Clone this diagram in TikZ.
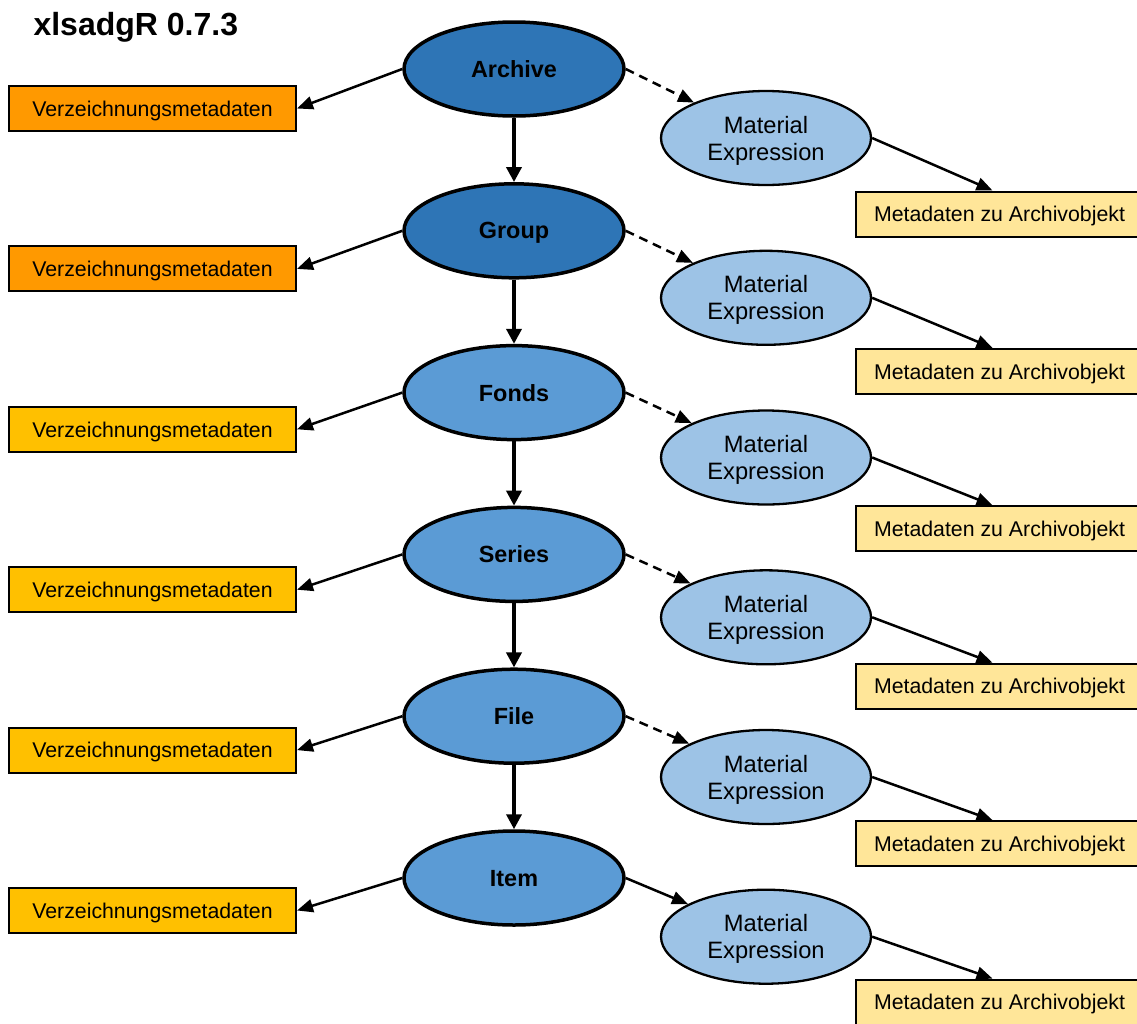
\documentclass[tikz,border=0pt]{standalone}
\usepackage{fontspec}
\setmainfont{Liberation Sans}
\usetikzlibrary{shapes.geometric,arrows.meta}
\definecolor{orangeA}{HTML}{FF9900}
\definecolor{orangeB}{HTML}{FFC000}
\definecolor{metaY}{HTML}{FFE699}
\definecolor{blueD}{HTML}{2E75B6}
\definecolor{blueM}{HTML}{5B9BD5}
\definecolor{blueL}{HTML}{9DC3E6}
\tikzset{
  mainell/.style={ellipse, draw=black, line width=3.5pt, minimum width=220pt, minimum height=94pt, inner sep=0pt,
    text depth=0pt, font=\fontsize{23.4pt}{27pt}\selectfont\bfseries},
  meell/.style={ellipse, draw=black, line width=2.3pt, fill=blueL, minimum width=210pt, minimum height=94pt, inner sep=0pt,
    align=center, text depth=0pt, font=\fontsize{23.7pt}{27pt}\selectfont},
  vbox/.style={rectangle, draw=black, line width=2pt, minimum width=287pt, minimum height=45pt, inner sep=0pt,
    text depth=0pt, font=\fontsize{21.3pt}{25pt}\selectfont},
  mbox/.style={vbox, fill=metaY},
  conn/.style={line width=2.5pt, -{Triangle[length=16pt,width=13pt]}},
  vconn/.style={line width=3.6pt, -{Triangle[length=15pt,width=15pt]}},
  dconn/.style={conn, dash pattern=on 9pt off 6pt},
}
\begin{document}
\begin{tikzpicture}[x=1pt,y=-1pt]
\useasboundingbox (0,0) rectangle (1137,1023);
\node[anchor=base west, font=\fontsize{32pt}{36pt}\selectfont\bfseries] (title) at (30,35) {xlsadgR 0.7.3};

% main ellipses
\node[mainell, fill=blueD] (m1) at (514,69) {Archive};
\node[mainell, fill=blueD] (m2) at (514,230.8) {Group};
\node[mainell, fill=blueM] (m3) at (514,392.6) {Fonds};
\node[mainell, fill=blueM] (m4) at (514,554.4) {Series};
\node[mainell, fill=blueM] (m5) at (514,716.2) {File};
\node[mainell, fill=blueM] (m6) at (514,878) {Item};

% left boxes
\node[vbox, fill=orangeA] (v1) at (152.5,108.5) {Verzeichnungsmetadaten};
\node[vbox, fill=orangeA] (v2) at (152.5,268.9) {Verzeichnungsmetadaten};
\node[vbox, fill=orangeB] (v3) at (152.5,429.3) {Verzeichnungsmetadaten};
\node[vbox, fill=orangeB] (v4) at (152.5,589.7) {Verzeichnungsmetadaten};
\node[vbox, fill=orangeB] (v5) at (152.5,750.1) {Verzeichnungsmetadaten};
\node[vbox, fill=orangeB] (v6) at (152.5,910.5) {Verzeichnungsmetadaten};

% material expression ellipses
\node[meell] (e1) at (766,138) {Material\\Expression};
\node[meell] (e2) at (766,297.8) {Material\\Expression};
\node[meell] (e3) at (766,457.5) {Material\\Expression};
\node[meell] (e4) at (766,617.3) {Material\\Expression};
\node[meell] (e5) at (766,777) {Material\\Expression};
\node[meell] (e6) at (766,936.7) {Material\\Expression};

% meta boxes
\node[mbox] (b1) at (999.5,214) {Metadaten zu Archivobjekt};
\node[mbox] (b2) at (999.5,371.4) {Metadaten zu Archivobjekt};
\node[mbox] (b3) at (999.5,528.8) {Metadaten zu Archivobjekt};
\node[mbox] (b4) at (999.5,686.2) {Metadaten zu Archivobjekt};
\node[mbox] (b5) at (999.5,843.6) {Metadaten zu Archivobjekt};
\node[mbox] (b6) at (999.5,1002) {Metadaten zu Archivobjekt};

% connectors
\foreach \i in {1,...,6}{
  \draw[conn] (m\i.west) -- (v\i.east);
  \draw[conn] (e\i.east) -- ([xshift=-7pt]b\i.north);
}
\foreach \i in {1,...,5}{
  \draw[dconn] (m\i.east) -- (e\i);
}
\draw[conn] (m6.east) -- (e6);
\foreach \i/\j in {1/2,2/3,3/4,4/5,5/6}{
  \draw[vconn] (m\i.south) -- (m\j.north);
}
\end{tikzpicture}
\end{document}
